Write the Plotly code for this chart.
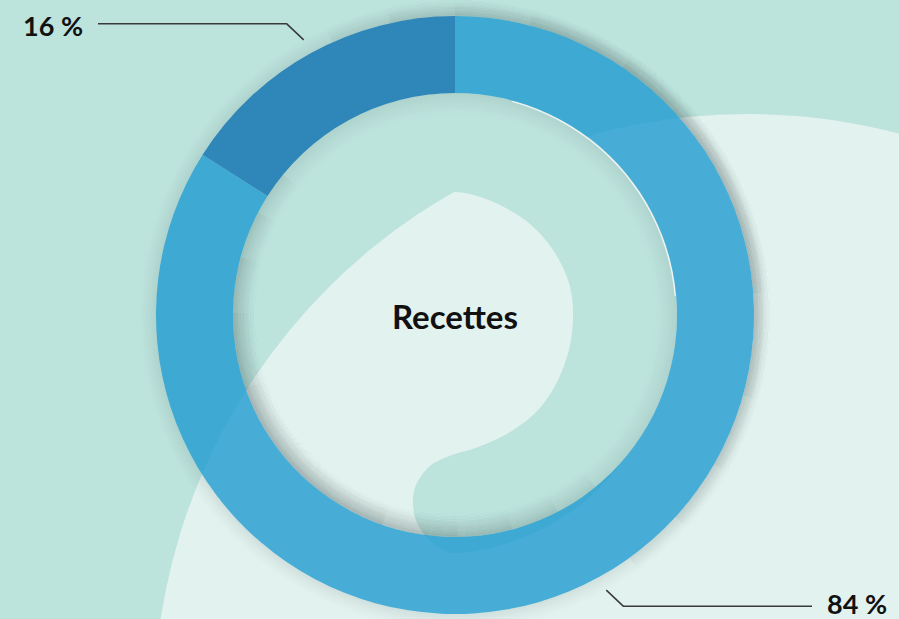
"""Donut chart: Recettes split 84 % / 16 %."""
import numpy as np
import plotly.graph_objects as go

# --- data -------------------------------------------------------------------
segment_labels = ["84 %", "16 %"]
segment_values = [84, 16]
segment_colors = ["rgba(20,150,205,0.75)", "rgba(0,103,172,0.75)"]
center_title = "Recettes"

# --- geometry (pixels) ------------------------------------------------------
W, H = 899, 619
CX, CY = 455, 315
R_OUT, R_IN = 299, 222

BG = "#bde3dd"
LIGHT = "#e2f2ef"
INK = "#111111"
FONT = "Lato, 'Open Sans', sans-serif"


def px(x):
    return x / W


def py(y):
    return 1 - y / H


def smooth(points, n=8):
    """Catmull-Rom through the given pixel points."""
    pts = np.asarray(points, dtype=float)
    pts = np.vstack([pts[0], pts, pts[-1]])
    out = []
    for i in range(1, len(pts) - 2):
        p0, p1, p2, p3 = pts[i - 1], pts[i], pts[i + 1], pts[i + 2]
        for t in np.linspace(0, 1, n, endpoint=False):
            t2, t3 = t * t, t * t * t
            out.append(0.5 * ((2 * p1) + (-p0 + p2) * t
                              + (2 * p0 - 5 * p1 + 4 * p2 - p3) * t2
                              + (-p0 + 3 * p1 - 3 * p2 + p3) * t3))
    out.append(pts[-2])
    return out


def to_path(points, close=True):
    s = "M " + " L ".join(f"{px(x):.5f},{py(y):.5f}" for x, y in points)
    return s + (" Z" if close else "")


def circle(cx, cy, r, **kw):
    return dict(type="circle", xref="paper", yref="paper",
                x0=px(cx - r), x1=px(cx + r), y0=py(cy + r), y1=py(cy - r), **kw)


def arc(r, a0, a1):
    n = max(4, int(abs(a1 - a0) / 3))
    t = np.radians(np.linspace(a0, a1, n))
    return list(zip(CX + r * np.cos(t), CY + r * np.sin(t)))


shapes = []

# big light arc in the background
shapes.append(circle(748, 708, 594, fillcolor=LIGHT, line_width=0, layer="below"))

# teal tongue inside the hole
bulb = [(443, 191), (470, 194), (500, 205), (530, 224), (553, 250), (568, 280),
        (573, 310), (570, 345), (558, 380), (538, 410), (510, 432), (478, 447),
        (452, 455), (430, 466), (416, 485), (413, 505), (418, 525), (432, 543),
        (450, 553)]
tongue = smooth(bulb)
for th in np.linspace(88, -95, 60):
    rr = 222 + 16 * max(0.0, (th - 40) / 48)
    tongue.append((CX + rr * np.cos(np.radians(th)), CY + rr * np.sin(np.radians(th))))
tongue.append((443, 150))
shapes.append(dict(type="path", xref="paper", yref="paper", path=to_path(tongue),
                   fillcolor=BG, line_width=0, layer="below"))


# soft directional shadows hugging the ring (outside it and inside the hole):
# a faint full circle per radius plus nested arcs centred on the light direction
def shadow(base_r, sign, n_rings, peak, focus, floor, levels=5):
    half_widths = np.degrees(np.arccos((np.arange(1, levels + 1) - 0.5) / levels))
    for k in range(n_rings):
        r = base_r + sign * (0.75 + 1.5 * k)
        a_k = peak * (1 - k / n_rings) ** 1.6
        shapes.append(circle(CX, CY, r, line=dict(color=f"rgba(35,50,50,{a_k * floor:.3f})",
                                                  width=1.5), layer="below"))
        for hw in half_widths:
            a = a_k * (1 - floor) / levels
            shapes.append(dict(type="path", xref="paper", yref="paper",
                               path=to_path(arc(r, focus - hw, focus + hw), close=False),
                               line=dict(color=f"rgba(35,50,50,{a:.3f})", width=1.5),
                               layer="below"))


shadow(R_OUT, +1, 12, 0.34, -30, 0.25)
shadow(R_IN, -1, 16, 0.34, 135, 0.25)

# thin highlight on the inner edge, upper right
shapes.append(dict(type="path", xref="paper", yref="paper",
                   path=to_path(arc(R_IN - 0.8, -75, -5), close=False),
                   line=dict(color="rgba(255,255,255,0.75)", width=1.6), layer="below"))

# leader lines from each slice's middle angle (plotly counterclockwise layout:
# first slice sits clockwise of 12 o'clock, the others run counterclockwise)
total = sum(segment_values)
annotations = []
start = 360 * segment_values[0] / total
for label, v in zip(segment_labels, segment_values):
    end = start - 360 * v / total
    theta = np.radians((start + end) / 2)
    start = end
    x0 = CX + np.sin(theta) * 314
    y0 = CY - np.cos(theta) * 314
    side = -1 if x0 < CX else 1
    up = -1 if y0 < CY else 1
    x1, y1 = x0 + side * 17, y0 + up * 16
    x2 = 98 if side < 0 else 812
    shapes.append(dict(type="path", xref="paper", yref="paper",
                       path=to_path([(x0, y0), (x1, y1), (x2, y1)], close=False),
                       line=dict(color="#3a3a3a", width=1.5)))
    annotations.append(dict(x=px(x2 + side * 13), y=py(y1 + (2 if up < 0 else -2.5)),
                            xref="paper", yref="paper",
                            text=f"<b>{label}</b>", showarrow=False,
                            xanchor="right" if side < 0 else "left", yanchor="middle",
                            font=dict(family=FONT, size=27, color=INK)))

annotations.append(dict(x=px(CX), y=py(CY + 1), xref="paper", yref="paper",
                        text=f"<b>{center_title}</b>", showarrow=False,
                        font=dict(family=FONT, size=33, color=INK)))

fig = go.Figure(
    go.Pie(
        labels=segment_labels,
        values=segment_values,
        sort=False,
        direction="counterclockwise",
        rotation=0,
        hole=R_IN / R_OUT,
        marker=dict(colors=segment_colors, line=dict(width=0)),
        textinfo="none",
        hoverinfo="label+percent",
        showlegend=False,
        domain=dict(x=[px(CX - R_OUT), px(CX + R_OUT)], y=[py(CY + R_OUT), py(CY - R_OUT)]),
    )
)

fig.update_layout(
    width=W,
    height=H,
    margin=dict(l=0, r=0, t=0, b=0),
    paper_bgcolor=BG,
    plot_bgcolor=BG,
    shapes=shapes,
    annotations=annotations,
    font=dict(family=FONT),
)

fig.write_html(
    "out.html",
    config={"displayModeBar": False},
    post_script="document.body.style.margin='0';document.body.style.overflow='hidden';",
)
